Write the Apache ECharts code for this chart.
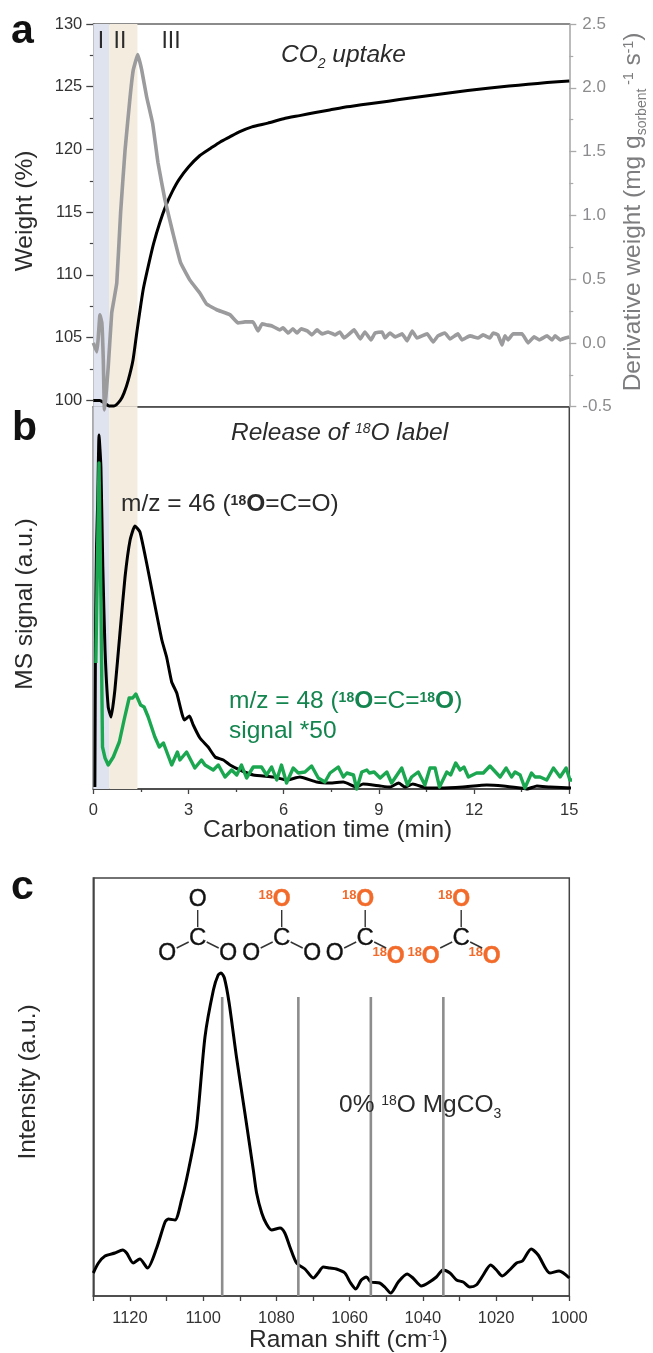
<!DOCTYPE html>
<html><head><meta charset="utf-8">
<style>html,body{margin:0;padding:0;background:#fff}#c{width:653px;height:1353px}</style>
<script src="https://cdn.jsdelivr.net/npm/echarts@6/dist/echarts.min.js"></script>
</head><body><div id="c"></div>
<script>
const weightCurve=[[0,100],[0.2,100],[0.35,99.8],[0.5,99.55],[0.65,99.55],[0.85,100],[0.97,100.6],[1.1,101.6],[1.25,103.2],[1.37,105.4],[1.57,108.8],[1.75,110.9],[1.9,112.5],[2.1,114.2],[2.3,115.6],[2.5,116.7],[2.7,117.6],[3,118.6],[3.35,119.5],[3.7,120.1],[4,120.6],[4.3,121],[4.6,121.4],[5,121.8],[5.5,122.1],[6,122.45],[6.5,122.7],[7,122.95],[7.45,123.15],[8,123.4],[8.7,123.65],[9.3,123.85],[10,124.1],[10.6,124.3],[11.2,124.5],[11.8,124.7],[12.5,124.9],[13.1,125.05],[13.7,125.2],[14.3,125.33],[15,125.45]];
const derivativeCurve=[[0,0],[0.11,-0.07],[0.15,0.02],[0.21,0.22],[0.27,0.157],[0.315,-0.133],[0.35,-0.525],[0.4,-0.41],[0.47,-0.19],[0.58,0.235],[0.65,0.337],[0.74,0.47],[0.86,1.02],[1,1.51],[1.16,1.93],[1.26,2.14],[1.4,2.26],[1.525,2.14],[1.68,1.93],[1.87,1.72],[2.04,1.41],[2.26,1.12],[2.51,0.86],[2.75,0.63],[3.05,0.49],[3.36,0.39],[3.57,0.305],[3.89,0.26],[4.31,0.22],[4.56,0.157],[4.78,0.165],[5.03,0.165],[5.19,0.094],[5.32,0.149],[5.47,0.141],[5.63,0.133],[5.88,0.102],[5.98,0.118],[6.14,0.078],[6.29,0.11],[6.42,0.078],[6.55,0.11],[6.74,0.094],[6.89,0.063],[7.05,0.102],[7.21,0.071],[7.4,0.086],[7.62,0.063],[7.77,0.086],[7.9,0.039],[8.03,0.063],[8.22,0.102],[8.41,0.031],[8.56,0.086],[8.75,0.024],[8.88,0.078],[9.1,0.086],[9.19,0.039],[9.35,0.078],[9.51,0.047],[9.73,0.071],[9.89,0.016],[10.05,0.094],[10.2,0.039],[10.52,0.071],[10.71,0.008],[10.86,0.055],[11.08,0.078],[11.24,0.031],[11.49,0.071],[11.62,0.024],[11.87,0.055],[12.12,0.039],[12.28,0.063],[12.5,0.039],[12.6,0.078],[12.75,0.063],[12.88,-0.016],[12.97,0.055],[13.07,0.024],[13.23,0.071],[13.51,0.071],[13.7,0],[13.89,0.047],[14.05,0.024],[14.3,0.055],[14.46,0.024],[14.55,0.055],[14.71,0.024],[14.87,0.039],[15,0.047]];
const ms46=[[0.05,2],[0.07,160],[0.1,240],[0.14,289],[0.18,354],[0.24,322],[0.3,222],[0.37,139],[0.47,82],[0.56,72],[0.68,99],[0.84,156],[1,212],[1.16,249],[1.31,263],[1.47,257],[1.68,226],[1.89,192],[2.16,149],[2.31,132],[2.47,107],[2.63,96],[2.87,69],[3.03,73],[3.15,64],[3.36,51],[3.62,42],[3.84,32],[4.1,29],[4.31,24],[4.62,19],[5.04,14],[5.67,12],[6.1,9],[6.51,12],[7.04,7],[7.46,6],[7.88,7],[8.3,2],[8.5,5],[9.04,3],[9.35,2],[9.62,6],[9.82,2],[10.07,5],[10.51,1],[10.93,1],[11.65,2],[12.4,4],[12.92,3],[13.45,1],[13.67,0],[13.98,3],[14.39,2],[15.12,1]];
const ms48=[[0.08,126],[0.18,326],[0.24,189],[0.29,42],[0.37,31],[0.47,24],[0.63,32],[0.82,47],[0.97,69],[1.13,91],[1.24,91],[1.34,95],[1.49,84],[1.6,82],[1.73,72],[1.94,52],[2.08,42],[2.21,46],[2.47,24],[2.65,37],[2.73,29],[2.94,37],[3.2,21],[3.41,29],[3.52,24],[3.78,19],[3.94,24],[4.15,12],[4.36,19],[4.52,14],[4.67,24],[4.83,11],[5.04,22],[5.3,22],[5.46,14],[5.62,22],[5.78,9],[5.93,24],[6.09,6],[6.3,21],[6.46,16],[6.67,17],[6.88,23],[7.09,11],[7.3,7],[7.46,16],[7.72,22],[7.88,12],[7.99,16],[8.2,14],[8.3,0],[8.46,17],[8.62,19],[8.7,16],[8.85,17],[9.04,11],[9.25,17],[9.4,6],[9.72,21],[9.9,4],[10.03,12],[10.24,17],[10.45,4],[10.61,21],[10.77,21],[10.91,2],[11.14,17],[11.26,14],[11.42,26],[11.56,19],[11.68,22],[11.82,12],[12.08,16],[12.29,16],[12.5,23],[12.82,12],[13.01,21],[13.18,12],[13.29,17],[13.45,14],[13.6,1],[13.81,16],[13.92,12],[14.08,12],[14.29,9],[14.5,21],[14.71,12],[14.9,21],[15.02,9],[15.13,9]];
const raman=[[1130,23],[1128.6,33],[1126.8,40],[1124.1,43],[1122,46],[1120.9,43],[1119.1,33],[1117.3,37],[1115.2,28],[1112.7,48],[1110.4,74],[1109.5,77],[1107.7,76],[1105.9,96],[1104,126],[1101.8,169],[1099.5,259],[1097.2,306],[1095.9,321],[1095.1,323],[1094.2,318],[1092.9,293],[1090.9,239],[1088.6,183],[1086.3,126],[1085.4,103],[1084,83],[1082.7,72],[1081.3,66],[1079,68],[1077.7,63],[1076.3,49],[1074.5,33],[1072.2,27],[1069.9,18],[1068.6,23],[1067.2,29],[1065.4,28],[1063.6,27],[1061.3,23],[1059.9,14],[1058.3,7],[1056.8,16],[1055.4,19],[1054.2,14],[1051.8,13],[1050.4,9],[1048.8,3],[1046.7,14],[1044.3,22],[1042.7,18],[1040.4,10],[1038.6,13],[1036.3,19],[1034.5,26],[1032.6,23],[1030.8,16],[1029,14],[1027.2,9],[1025.4,11],[1023.5,21],[1021.5,31],[1019.9,26],[1018.3,20],[1016.3,26],[1014.4,33],[1012.8,35],[1010.4,47],[1008.5,41],[1005.3,23],[1002.8,25],[1000,18]];
const isotopePeaks=[1094.8,1074,1054.2,1034.4];
const peakTop=299;
const bandI=[0,0.5], bandII=[0.5,1.39];
const weightTicks=[100,105,110,115,120,125,130];
const weightMinor=[102.5,107.5,112.5,117.5,122.5,127.5];

const FONT='"Liberation Sans",Arial,sans-serif', DARK='#2b2b2b', GREY='#8c8c8e', CURVE='#9b9b9d', GREEN='#1ba650', TXTG='#14854f', ORANGE='#f26b2b';
const chart=echarts.init(document.getElementById('c'),null,{renderer:'canvas'});
const band=[[{xAxis:bandI[0],itemStyle:{color:'#dfe3f0'}},{xAxis:bandI[1]}],[{xAxis:bandII[0],itemStyle:{color:'#f3ecdf'}},{xAxis:bandII[1]}]];
const lbl={fontFamily:FONT,fontSize:16.5,color:'#333'};
const line=(data,color,w,xi,yi,smooth,extra)=>Object.assign({type:'line',data,xAxisIndex:xi,yAxisIndex:yi,showSymbol:false,symbol:'none',smooth:smooth,clip:false,silent:true,lineStyle:{color,width:w,join:'round'}},extra||{});

const series=[
 line(weightCurve,'#000',3,0,0,0.2,{markArea:{silent:true,data:band}}),
 line(derivativeCurve,CURVE,3.6,0,2,0.1),
 line(ms46,'#000',3,2,3,0.15,{markArea:{silent:true,data:band}}),
 line(ms48,GREEN,3.4,2,3,false),
 line(raman,'#000',3,3,4,0.25),
 ...isotopePeaks.map(p=>line([[p,0],[p,peakTop]],'#8d8d8d',2.6,3,4,false))
];

const T=(x,y,text,o)=>{o=o||{};return {type:'text',x,y,rotation:o.rot||0,z:50,silent:true,style:{text,x:0,y:0,align:o.align||'left',verticalAlign:'middle',fontFamily:FONT,fontSize:o.size||24.5,fontStyle:o.italic?'italic':'normal',fontWeight:o.bold?'bold':'normal',fill:o.color||DARK,stroke:o.sw?(o.color||DARK):undefined,lineWidth:o.sw||0,rich:o.rich}};};
const rich=(size,color)=>{const s=Math.round(size*0.56);return {
 m:{fontFamily:FONT,fontSize:size,fill:color,lineHeight:32},
 i:{fontFamily:FONT,fontSize:size,fontStyle:'italic',fill:color,lineHeight:32},
 b:{fontFamily:FONT,fontSize:size,fontWeight:'bold',fill:color,lineHeight:32},
 sup:{fontFamily:FONT,fontSize:s,fill:color,verticalAlign:'top',padding:[5,0,0,0],lineHeight:14},
 supb:{fontFamily:FONT,fontSize:s,fontWeight:'bold',fill:color,verticalAlign:'top',padding:[6,0,0,0],lineHeight:14},
 supi:{fontFamily:FONT,fontSize:s,fontStyle:'italic',fill:color,verticalAlign:'top',padding:[5,0,0,0],lineHeight:14},
 sub:{fontFamily:FONT,fontSize:s,fill:color,verticalAlign:'bottom',lineHeight:14},
 subi:{fontFamily:FONT,fontSize:s,fontStyle:'italic',fill:color,verticalAlign:'bottom',lineHeight:14}
};};
const RP=Math.PI/2;
const graphics=[
 T(11,32,'a',{size:41,bold:true,color:'#111'}),
 T(12,429,'b',{size:41,bold:true,color:'#111'}),
 T(11,888,'c',{size:41,bold:true,color:'#111'}),
 T(25,211,'Weight (%)',{rot:RP,align:'center'}),
 T(25,604,'MS signal (a.u.)',{rot:RP,align:'center'}),
 T(28,1082,'Intensity (a.u.)',{rot:RP,align:'center'}),
 T(633,212,'{m|Derivative weight (mg g}{sub|sorbent}{sup| -1}{m| s}{sup|-1}{m|)}',{rot:RP,align:'center',rich:rich(24.5,'#7d7d7f')}),
 T(101,42,'I',{size:23,align:'center'}),
 T(120,42,'II',{size:23,align:'center'}),
 T(171,42,'III',{size:23,align:'center'}),
 T(281,55,'{i|CO}{subi|2}{i| uptake}',{rich:rich(24.5,DARK)}),
 T(231,433,'{i|Release of }{supi|18}{i|O label}',{rich:rich(24.5,DARK)}),
 T(121,504,'{m|m/z = 46 (}{supb|18}{b|O}{m|=C=O)}',{rich:rich(24.5,DARK)}),
 T(229,701,'{m|m/z = 48 (}{supb|18}{b|O}{m|=C=}{supb|18}{b|O}{m|)}',{rich:rich(24.5,TXTG)}),
 T(229,731,'signal *50',{color:TXTG}),
 T(203,830,'Carbonation time (min)',{}),
 T(249,1340,'{m|Raman shift (cm}{sup|-1}{m|)}',{rich:rich(24.5,DARK)}),
 T(339,1105,'{m|0% }{sup|18}{m|O MgCO}{sub|3}',{rich:rich(24.5,DARK)})
];
const schemes=[{dx:0,lab:[0,0,0]},{dx:84,lab:[1,0,0]},{dx:167.5,lab:[1,0,1]},{dx:263.5,lab:[1,1,1]}];
schemes.forEach(s=>{
 const cx=197.7+s.dx, atom=(x,y,l)=>{
  graphics.push(T(x,y,'O',{size:23,align:'center',bold:!!l,sw:0.4,color:l?ORANGE:'#111'}));
  if(l)graphics.push(T(x-16,y-5,'18',{size:13,bold:true,align:'center',color:ORANGE}));
 };
 graphics.push(T(cx,938,'C',{size:24,align:'center',sw:0.3,color:'#111'}));
 atom(cx,900,s.lab[0]);
 atom(cx-30.5,s.lab[1]?957:953.5,s.lab[1]);
 atom(cx+30.5,s.lab[2]?957:953.5,s.lab[2]);
 [[cx,910,cx,927],[cx-21,948,cx-9,942],[cx+9,942,cx+21,948]].forEach(l=>graphics.push({type:'line',z:50,silent:true,shape:{x1:l[0],y1:l[1],x2:l[2],y2:l[3]},style:{stroke:'#333',lineWidth:1.4}}));
});

chart.setOption({
 animation:false,backgroundColor:'#fff',
 grid:[
  {left:93.3,width:476,top:24,height:382.7,show:false},
  {left:93.3,width:476,top:406.7,height:382.3,show:true,borderColor:'#444',borderWidth:1.5,backgroundColor:'transparent'},
  {left:93.3,width:476,top:878,height:418,show:true,borderColor:'#444',borderWidth:1.5,backgroundColor:'transparent'}
 ],
 xAxis:[
  {gridIndex:0,type:'value',min:0,max:15,position:'bottom',axisLine:{show:true,onZero:false,lineStyle:{color:'#555',width:1.5}},axisTick:{show:false},axisLabel:{show:false},splitLine:{show:false}},
  {gridIndex:0,type:'value',min:0,max:15,position:'top',axisLine:{show:true,onZero:false,lineStyle:{color:'#666',width:1.5}},axisTick:{show:false},axisLabel:{show:false},splitLine:{show:false}},
  {gridIndex:1,type:'value',min:0,max:15,interval:3,position:'bottom',axisLine:{show:true,onZero:false,lineStyle:{color:'#444',width:1.5}},axisTick:{show:true,length:5,lineStyle:{color:'#444',width:1.3}},minorTick:{show:true,splitNumber:2,length:3,lineStyle:{color:'#444',width:1.3}},axisLabel:Object.assign({margin:13},lbl),splitLine:{show:false},minorSplitLine:{show:false}},
  {gridIndex:2,type:'value',min:1000,max:1130,interval:20,inverse:true,position:'bottom',axisLine:{show:true,onZero:false,lineStyle:{color:'#444',width:1.5}},axisTick:{show:true,length:5,lineStyle:{color:'#444',width:1.3}},minorTick:{show:true,splitNumber:2,length:5,lineStyle:{color:'#444',width:1.3}},axisLabel:Object.assign({margin:14,showMaxLabel:false,formatter:v=>String(v)},lbl),splitLine:{show:false},minorSplitLine:{show:false}}
 ],
 yAxis:[
  {gridIndex:0,type:'value',min:99.5,max:130,position:'left',axisLine:{show:true,onZero:false,lineStyle:{color:'#444',width:1.5}},axisTick:{show:true,length:7,customValues:weightTicks,lineStyle:{color:'#444',width:1.3}},axisLabel:Object.assign({margin:11,customValues:weightTicks},lbl),splitLine:{show:false}},
  {gridIndex:0,type:'value',min:99.5,max:130,position:'left',axisLine:{show:false},axisTick:{show:true,length:3.5,customValues:weightMinor,lineStyle:{color:'#444',width:1.2}},axisLabel:{show:false},splitLine:{show:false}},
  {gridIndex:0,type:'value',min:-0.5,max:2.5,interval:0.5,position:'right',axisLine:{show:true,onZero:false,lineStyle:{color:'#aaa',width:1.6}},axisTick:{show:true,length:7,lineStyle:{color:'#aaa',width:1.3}},minorTick:{show:true,splitNumber:2,length:4,lineStyle:{color:'#aaa',width:1.2}},axisLabel:{margin:13,fontFamily:FONT,fontSize:17,color:GREY,formatter:v=>v.toFixed(1)},splitLine:{show:false},minorSplitLine:{show:false}},
  {gridIndex:1,type:'value',min:0,max:382.3,axisLine:{show:true,onZero:false,lineStyle:{color:'#444',width:1.5}},axisTick:{show:false},axisLabel:{show:false},splitLine:{show:false}},
  {gridIndex:2,type:'value',min:0,max:418,axisLine:{show:true,onZero:false,lineStyle:{color:'#444',width:1.5}},axisTick:{show:false},axisLabel:{show:false},splitLine:{show:false}}
 ],
 series,
 graphic:{elements:graphics}
});
</script></body></html>
